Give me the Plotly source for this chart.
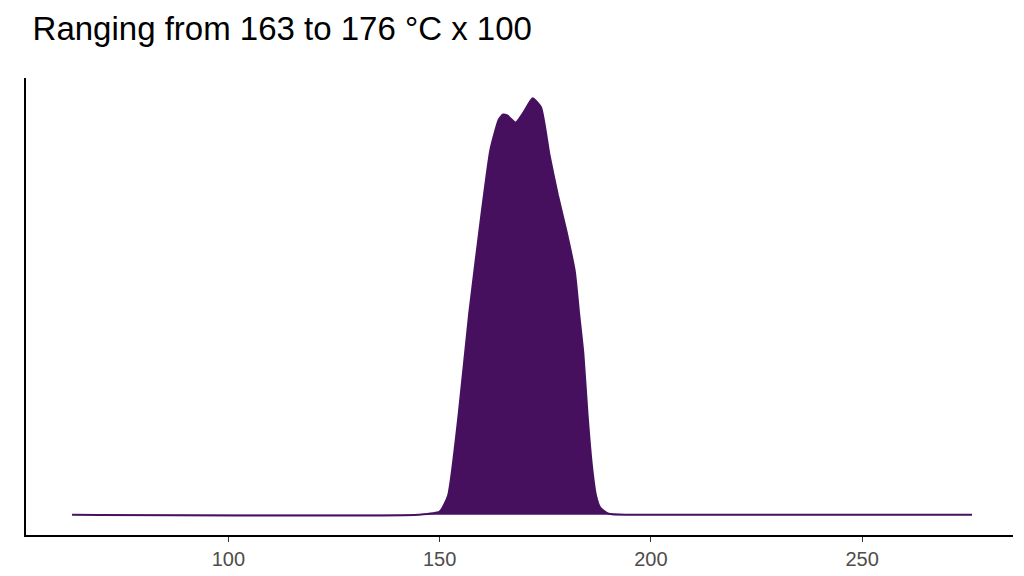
import plotly.graph_objects as go

temp = [63, 145, 150, 152, 154.5, 157, 160, 162, 164, 165, 166, 168, 170, 172,
        174, 176, 178, 180, 182, 183, 184, 185, 186, 187, 188, 190, 195, 276]
density = [0, 0, 3, 19, 99, 199, 300, 360, 390, 395, 394, 387, 398, 411,
           402, 355, 315, 280, 240, 199, 160, 99, 50, 19, 7, 1, 0, 0]

fig = go.Figure(go.Scatter(
    x=temp, y=density, mode='lines',
    line=dict(color='#46125f', width=2, shape='spline', smoothing=0.5),
    fill='tozeroy', fillcolor='#46105e'))

fig.update_layout(
    width=1024, height=576, paper_bgcolor='white', plot_bgcolor='white',
    margin=dict(l=18, r=19, t=70, b=49),
    showlegend=False,
    title=dict(text='Ranging from 163 to 176 °C x 100', x=0.024, xanchor='left', y=0.985, yanchor='top',
               font=dict(family='Liberation Sans, Arial', size=33, color='black')),
    xaxis=dict(range=[52.1, 285.7], tickvals=[100, 150, 200, 250], showgrid=False, zeroline=False,
               showline=True, linecolor='black', linewidth=2, ticks='outside', ticklen=5,
               tickcolor='#333', tickfont=dict(family='Liberation Sans, Arial', size=20, color='#4d4d4d')),
    yaxis=dict(range=[-20, 431], showgrid=False, zeroline=False, showticklabels=False,
               showline=True, linecolor='black', linewidth=2, ticks=''),
)

fig.write_html("out.html")
